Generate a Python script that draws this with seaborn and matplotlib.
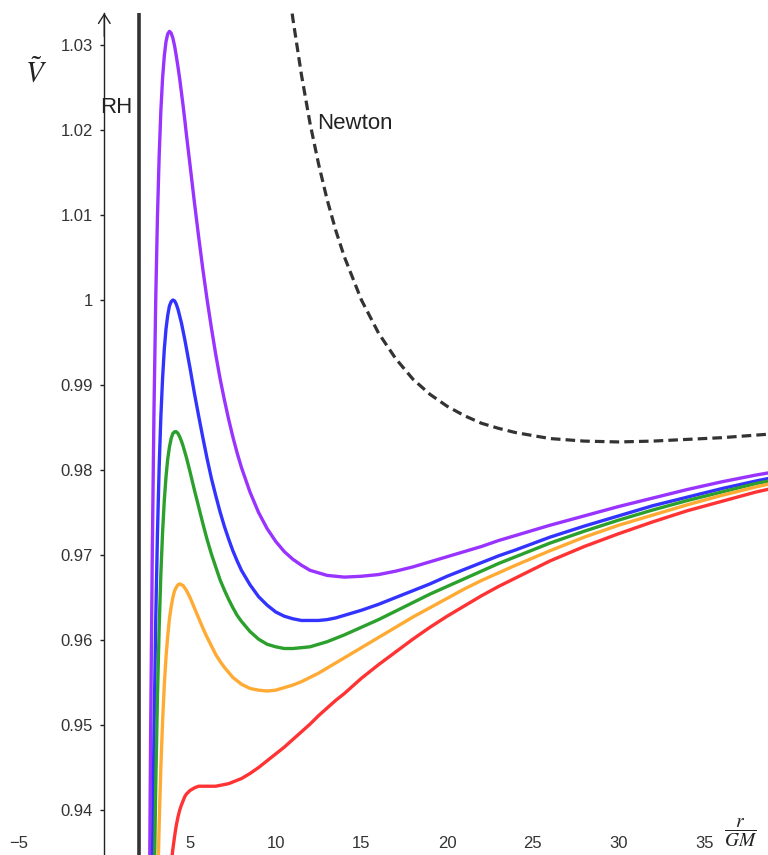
import numpy as np
import pandas as pd
import matplotlib
matplotlib.use("Agg")
import matplotlib.pyplot as plt
import seaborn as sns

# radius r/GM where the curves were read
r = [2.3, 2.4, 2.5, 2.6, 2.7, 2.8, 2.9, 3.0, 3.1, 3.2, 3.3, 3.4, 3.5, 3.6, 3.7, 3.8, 3.9,
     4.0, 4.1, 4.2, 4.3, 4.4, 4.5, 4.6, 4.7, 4.8, 4.9, 5.0,
     5.25, 5.5, 5.75, 6, 6.25, 6.5, 6.75, 7, 7.25, 7.5, 7.75, 8,
     8.5, 9, 9.5, 10, 10.5, 11, 11.5, 12, 12.5, 13, 13.5, 14,
     15, 16, 17, 18, 19, 20, 21, 22, 23, 24, 26, 28, 30, 32, 34, 36, 38, 40]

v_purple = [0.7578, 0.8292, 0.8809, 0.9194, 0.9484, 0.9704, 0.9872, 1.0000, 1.0097, 1.0169,
            1.0223, 1.0261, 1.0287, 1.0304, 1.0313, 1.0316, 1.0314, 1.0308, 1.0299, 1.0287,
            1.0274, 1.0260, 1.0244, 1.0228, 1.0211, 1.0193, 1.0176, 1.0159,
            1.0116, 1.0075, 1.0036, 1.0000, 0.9967, 0.9936, 0.9908, 0.9883, 0.9860, 0.9839,
            0.9820, 0.9803, 0.9774, 0.9750, 0.9731, 0.9716, 0.9704, 0.9695, 0.9688, 0.9682,
            0.9679, 0.9676, 0.9675, 0.9674, 0.9675, 0.9677, 0.9681, 0.9686, 0.9692, 0.9698,
            0.9704, 0.9710, 0.9717, 0.9723, 0.9735, 0.9746, 0.9757, 0.9767, 0.9777, 0.9786,
            0.9794, 0.9801]
v_blue = [0.7245, 0.7935, 0.8438, 0.8815, 0.9101, 0.9321, 0.9491, 0.9623, 0.9724, 0.9803,
          0.9863, 0.9908, 0.9942, 0.9966, 0.9982, 0.9993, 0.9998, 1.0000, 0.9999, 0.9995,
          0.9989, 0.9981, 0.9973, 0.9963, 0.9953, 0.9942, 0.9931, 0.9920,
          0.9891, 0.9864, 0.9838, 0.9813, 0.9790, 0.9770, 0.9751, 0.9734, 0.9719, 0.9705,
          0.9693, 0.9682, 0.9665, 0.9651, 0.9641, 0.9633, 0.9628, 0.9625, 0.9623, 0.9623,
          0.9623, 0.9624, 0.9626, 0.9629, 0.9635, 0.9642, 0.9650, 0.9658, 0.9666, 0.9675,
          0.9683, 0.9691, 0.9699, 0.9706, 0.9721, 0.9734, 0.9746, 0.9758, 0.9768, 0.9778,
          0.9787, 0.9795]
v_green = [0.7073, 0.7750, 0.8246, 0.8619, 0.8903, 0.9123, 0.9294, 0.9428, 0.9533, 0.9614,
           0.9678, 0.9727, 0.9764, 0.9792, 0.9813, 0.9827, 0.9837, 0.9843, 0.9845, 0.9845,
           0.9843, 0.9839, 0.9834, 0.9828, 0.9821, 0.9814, 0.9806, 0.9798,
           0.9777, 0.9757, 0.9737, 0.9718, 0.9701, 0.9686, 0.9671, 0.9659, 0.9648, 0.9638,
           0.9629, 0.9622, 0.9610, 0.9601, 0.9595, 0.9592, 0.9590, 0.9590, 0.9591, 0.9592,
           0.9595, 0.9598, 0.9602, 0.9606, 0.9615, 0.9624, 0.9634, 0.9644, 0.9654, 0.9663,
           0.9672, 0.9681, 0.9690, 0.9698, 0.9714, 0.9728, 0.9741, 0.9753, 0.9764, 0.9774,
           0.9784, 0.9792]
v_orange = [0.6861, 0.7523, 0.8010, 0.8378, 0.8660, 0.8880, 0.9053, 0.9189, 0.9297, 0.9383,
            0.9451, 0.9504, 0.9547, 0.9580, 0.9605, 0.9625, 0.9639, 0.9650, 0.9658, 0.9662,
            0.9665, 0.9666, 0.9665, 0.9664, 0.9661, 0.9658, 0.9654, 0.9650,
            0.9638, 0.9626, 0.9614, 0.9603, 0.9593, 0.9583, 0.9575, 0.9568, 0.9562, 0.9556,
            0.9552, 0.9548, 0.9543, 0.9541, 0.9540, 0.9541, 0.9544, 0.9547, 0.9551, 0.9556,
            0.9561, 0.9567, 0.9573, 0.9579, 0.9591, 0.9603, 0.9615, 0.9627, 0.9638, 0.9649,
            0.9660, 0.9670, 0.9679, 0.9688, 0.9705, 0.9721, 0.9735, 0.9747, 0.9759, 0.9770,
            0.9780, 0.9789]
v_red = [0.6529, 0.7169, 0.7642, 0.8003, 0.8283, 0.8503, 0.8679, 0.8819, 0.8933, 0.9025,
         0.9100, 0.9161, 0.9211, 0.9252, 0.9285, 0.9313, 0.9336, 0.9354, 0.9369, 0.9382,
         0.9392, 0.9400, 0.9406, 0.9411, 0.9416, 0.9419, 0.9421, 0.9423,
         0.9426, 0.9428, 0.9428, 0.9428, 0.9428, 0.9428, 0.9429, 0.9430, 0.9431, 0.9433,
         0.9435, 0.9437, 0.9443, 0.9450, 0.9458, 0.9466, 0.9474, 0.9483, 0.9492, 0.9501,
         0.9511, 0.9520, 0.9529, 0.9537, 0.9555, 0.9571, 0.9586, 0.9601, 0.9615, 0.9628,
         0.9640, 0.9652, 0.9663, 0.9673, 0.9693, 0.9710, 0.9725, 0.9739, 0.9752, 0.9763,
         0.9774, 0.9783]

r_newton = [10.5, 11, 11.5, 12, 12.5, 13, 13.5, 14, 15, 16, 17, 18, 19, 20,
            21, 22, 23, 24, 26, 28, 30, 32, 34, 36, 38, 40]
v_newton = [1.0408, 1.0331, 1.0265, 1.0208, 1.0160, 1.0118, 1.0082, 1.0051, 1.0000, 0.9961,
            0.9931, 0.9907, 0.9889, 0.9875, 0.9864, 0.9855, 0.9849, 0.9844, 0.9837, 0.9834,
            0.9833, 0.9834, 0.9836, 0.9838, 0.9841, 0.9844]

r_horizon = 2
x_ticks = [-5, 5, 10, 15, 20, 25, 30, 35]
x_labels = ["\u22125", "5", "10", "15", "20", "25", "30", "35"]
y_ticks = [0.94, 0.95, 0.96, 0.97, 0.98, 0.99, 1.00, 1.01, 1.02, 1.03]
y_labels = ["0.94", "0.95", "0.96", "0.97", "0.98", "0.99", "1", "1.01", "1.02", "1.03"]

palette = {"purple": "#9933ff", "blue": "#3333ff", "green": "#2ca02c",
           "orange": "#ffaa33", "red": "#ff3333"}
series = {"purple": v_purple, "blue": v_blue, "green": v_green,
          "orange": v_orange, "red": v_red}
curves = pd.concat([pd.DataFrame({"r": r, "V": v, "curve": name})
                    for name, v in series.items()], ignore_index=True)

sns.set_theme(style="white")
plt.rcParams["font.family"] = ["Liberation Sans", "DejaVu Sans"]
plt.rcParams["mathtext.fontset"] = "stix"

fig = plt.figure(figsize=(7.68, 8.55), dpi=100)
ax = fig.add_axes([0, 0, 1, 842 / 855])

ax.axvline(r_horizon, color="#333333", lw=2.6, zorder=1)
sns.lineplot(data=curves, x="r", y="V", hue="curve", palette=palette,
             lw=2.4, legend=False, ax=ax, zorder=3,
             solid_joinstyle="round", solid_capstyle="round")
sns.lineplot(x=r_newton, y=v_newton, color="#333333", lw=2.3,
             linestyle=(0, (3, 1.6)), ax=ax, zorder=3)

ax.set_xlim(-6.085, 38.72)
ax.set_ylim(0.93471, 1.03376)

for s in ["top", "right", "bottom"]:
    ax.spines[s].set_visible(False)
ax.spines["left"].set_position(("data", 0))
ax.spines["left"].set_color("#222222")
ax.spines["left"].set_linewidth(1)
ax.annotate("", xy=(0, 1.03376), xytext=(0, 1.031), annotation_clip=False,
            arrowprops=dict(arrowstyle="->,head_length=0.55,head_width=0.35",
                            color="#222222", lw=1, shrinkA=0, shrinkB=0))

ax.set_yticks(y_ticks, y_labels)
ax.set_xticks(x_ticks, x_labels)
ax.tick_params(axis="y", left=True, direction="out", length=3, width=1, pad=5,
               labelsize=12, labelcolor="#333333", color="#222222")
ax.tick_params(axis="x", bottom=False, length=0, pad=-14, labelsize=12,
               labelcolor="#333333")
ax.set_xlabel("")
ax.set_ylabel("")

ax.text(0.68, 1.0227, "RH", fontsize=16, color="#222222", ha="center", va="center")
ax.text(14.63, 1.0208, "Newton", fontsize=16, color="#222222", ha="center", va="center")
ax.text(-4.0, 1.0267, r"$\tilde{V}$", fontsize=21, color="#222222", ha="center", va="center")
ax.text(37.09, 0.93735, r"$\dfrac{r}{GM}$", fontsize=14, color="#222222", ha="center", va="center")

fig.savefig("out.png", dpi=100)
